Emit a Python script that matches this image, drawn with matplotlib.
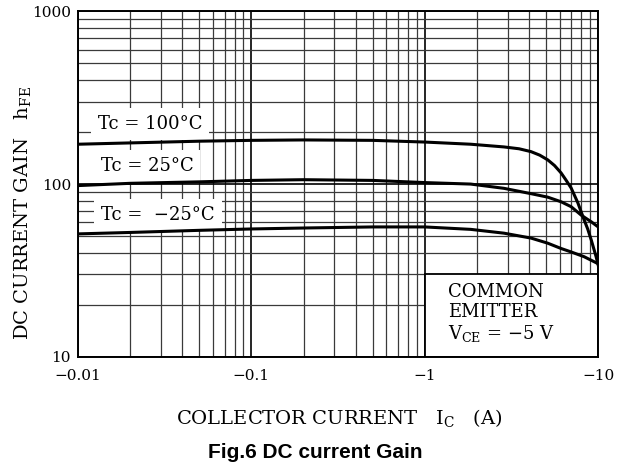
import matplotlib
matplotlib.use('Agg')
import matplotlib.pyplot as plt
from matplotlib.patches import Rectangle
from matplotlib.ticker import FixedLocator, FixedFormatter, LogLocator, NullFormatter

plt.rcParams['font.family'] = ['DejaVu Serif']
plt.rcParams['mathtext.fontset'] = 'dejavuserif'

# collector current |Ic| (A) and hFE
ic_100 = [0.01, 0.02, 0.05, 0.1, 0.2, 0.5, 1, 1.84, 2.86, 3.5, 4.1, 4.6, 5.12, 5.6, 6.11, 6.5,
          6.98, 7.63, 8.3, 8.7, 9.12, 9.73, 10]
hfe_100 = [170, 173, 177, 179, 180, 179, 175, 170, 164, 160, 154, 147, 138, 128, 116, 106,
           95, 78, 62, 55, 47.5, 38, 34]

ic_25 = [0.01, 0.02, 0.05, 0.1, 0.2, 0.5, 1, 1.84, 2.86, 4.1, 5.12, 6.11, 6.98, 8.0, 9.12, 10]
hfe_25 = [98, 101, 103, 105, 106, 105, 102, 100, 94.5, 88, 84, 79, 74, 66, 60.5, 56.5]

ic_m25 = [0.01, 0.02, 0.05, 0.1, 0.2, 0.5, 1, 1.84, 2.86, 4.1, 5.12, 6.11, 6.98, 8.3, 10]
hfe_m25 = [51.5, 52.5, 54, 55, 55.7, 56.5, 56.5, 54.7, 52, 48.7, 45.5, 42.4, 40.5, 38, 34.6]

x_ticks = [0.01, 0.1, 1, 10]
x_ticklabels = ['\u22120.01', '\u22120.1', '\u22121', '\u221210']
y_ticks = [10, 100, 1000]
y_ticklabels = ['10', '100', '1000']

fig = plt.figure(figsize=(6.29, 4.66), dpi=100)
ax = fig.add_axes([0.124, 0.234, 0.827, 0.742])

ax.set_xscale('log')
ax.set_yscale('log')
ax.set_xlim(0.01, 10)
ax.set_ylim(10, 1000)

ax.xaxis.set_major_locator(FixedLocator(x_ticks))
ax.xaxis.set_major_formatter(FixedFormatter(x_ticklabels))
ax.yaxis.set_major_locator(FixedLocator(y_ticks))
ax.yaxis.set_major_formatter(FixedFormatter(y_ticklabels))
for axis in (ax.xaxis, ax.yaxis):
    axis.set_minor_locator(LogLocator(base=10, subs=range(2, 10)))
    axis.set_minor_formatter(NullFormatter())

ax.grid(which='major', color='black', lw=1.2, zorder=0)
ax.grid(which='minor', color='#3a3a3a', lw=0.9, zorder=0)
ax.set_axisbelow(True)
ax.tick_params(which='both', length=0, labelsize=11)
ax.tick_params(axis='x', pad=9)
ax.tick_params(axis='y', pad=5)
for s in ax.spines.values():
    s.set_linewidth(1.4)

# white box in the corner holding the test conditions
ax.add_patch(Rectangle((1, 10), 9, 20, facecolor='white', edgecolor='black', lw=1.3, zorder=1))
ax.text(0.712, 0.215, 'COMMON\nEMITTER\nV$_{\\rm CE}$ = \u22125 V', transform=ax.transAxes,
        fontsize=13, ha='left', va='top', linespacing=1.15, zorder=3)

ax.plot(ic_100, hfe_100, color='black', lw=2.2, zorder=4)
ax.plot(ic_25, hfe_25, color='black', lw=2.2, zorder=4)
ax.plot(ic_m25, hfe_m25, color='black', lw=2.2, zorder=4)

box = dict(facecolor='white', edgecolor='none', pad=5)
ax.text(0.026, 222, 'Tc = 100\u00b0C', fontsize=13, ha='center', va='center', bbox=box, zorder=3)
ax.text(0.025, 127, 'Tc = 25\u00b0C', fontsize=13, ha='center', va='center', bbox=box, zorder=3)
ax.text(0.029, 66, 'Tc =  \u221225\u00b0C', fontsize=13, ha='center', va='center', bbox=box, zorder=3)

fig.text(23 / 629, 1 - 213 / 466, 'DC CURRENT GAIN   h$_{\\rm FE}$', rotation=90,
         fontsize=14, ha='center', va='center')
fig.text(339 / 629, 1 - 418 / 466, 'COLLECTOR CURRENT   I$_{\\rm C}$   (A)',
         fontsize=14, ha='center', va='center')
fig.text(315 / 629, 1 - 452 / 466, 'Fig.6 DC current Gain', family='Liberation Sans',
         fontweight='bold', fontsize=15, ha='center', va='center')

fig.savefig('out.png', dpi=100)
